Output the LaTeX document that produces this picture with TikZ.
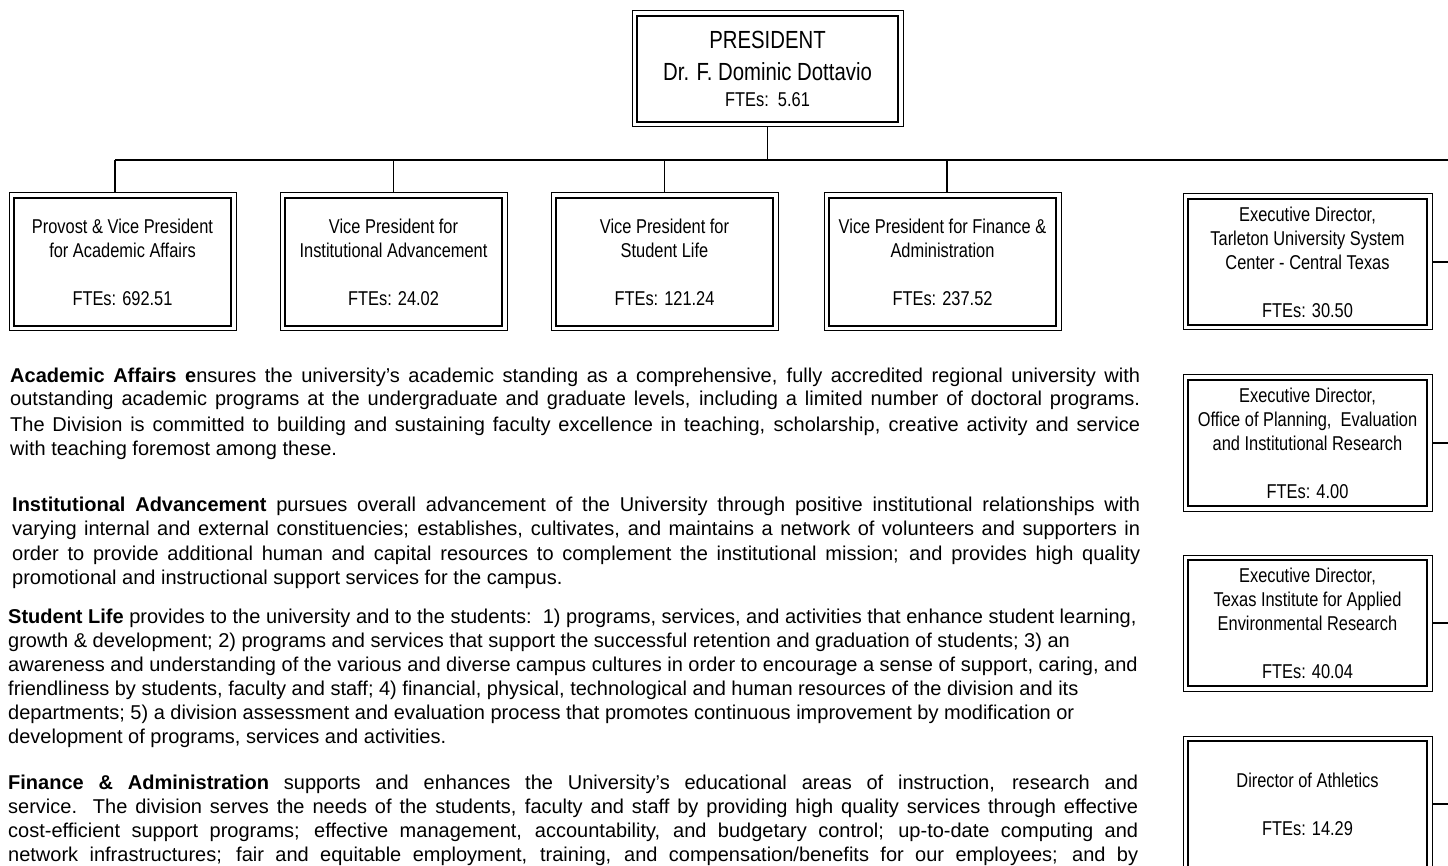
\documentclass[tikz,border=0pt]{standalone}
\usepackage{fontspec}
\setmainfont{Liberation Sans}
\newfontfamily\narrowfont[FakeStretch=0.82]{Liberation Sans}
\begin{document}
\begin{tikzpicture}[x=1pt,y=-1pt]
\tikzset{
  orgbox/.style={draw, line width=1.8pt, outer sep=5pt, align=center, inner sep=0pt,
                 font=\narrowfont\fontsize{20}{24}\selectfont},
  outerframe/.style={line width=1pt},
  conn/.style={line width=1.2pt},
  thickconn/.style={line width=2.2pt},
  para/.style={anchor=base west, inner sep=0pt, font=\fontsize{20}{24}\selectfont},
}
\useasboundingbox (0,0) rectangle (1448,866);

% ---- boxes ----
\node[orgbox, minimum width=261pt, minimum height=106pt,
      font=\narrowfont\fontsize{24.8}{32}\selectfont] (pres) at (767.5,69)
  {PRESIDENT\\Dr. F. Dominic Dottavio\\[-6pt]\fontsize{20}{24}\selectfont FTEs:\ \ 5.61};

\node[orgbox, minimum width=217pt, minimum height=128pt] (aa) at (122.5,262)
  {Provost \& Vice President\\for Academic Affairs\\[24pt]FTEs: 692.51};
\node[orgbox, minimum width=217pt, minimum height=128pt] (ia) at (393.5,262)
  {Vice President for\\Institutional Advancement\\[24pt]FTEs: 24.02};
\node[orgbox, minimum width=217pt, minimum height=128pt] (sl) at (664.5,262)
  {Vice President for\\Student Life\\[24pt]FTEs: 121.24};
\node[orgbox, minimum width=227pt, minimum height=128pt] (fa) at (942.5,262)
  {Vice President for Finance \&\\Administration\\[24pt]FTEs: 237.52};

\node[orgbox, minimum width=239pt, minimum height=126pt] (e1) at (1307.5,262)
  {Executive Director,\\Tarleton University System\\Center - Central Texas\\[24pt]FTEs: 30.50};
\node[orgbox, minimum width=239pt, minimum height=126pt] (e2) at (1307.5,443)
  {Executive Director,\\Office of Planning,\ \ Evaluation\\and Institutional Research\\[24pt]FTEs: 4.00};
\node[orgbox, minimum width=239pt, minimum height=126pt] (e3) at (1307.5,623)
  {Executive Director,\\Texas Institute for Applied\\Environmental Research\\[24pt]FTEs: 40.04};
\node[orgbox, minimum width=239pt, minimum height=126pt] (e4) at (1307.5,804)
  {Director of Athletics\\[24pt]FTEs: 14.29};

\foreach \n in {pres,aa,ia,sl,fa,e1,e2,e3,e4}
  \draw[outerframe] (\n.north west) rectangle (\n.south east);

% ---- connectors ----
\coordinate (bl) at (115,160);
\coordinate (br) at (1448,160);
\coordinate (bt) at (597,160);
\coordinate (j4) at (947,160);
\draw[conn] (bl) -- (br);
\draw[thickconn] (bt) -- (pres.south |- bl);
\draw[conn] (pres.south) -- (pres.south |- bl);
\draw[conn] (bl) -- (bl |- aa.north);
\draw[conn] (ia.north |- bl) -- (ia.north);
\draw[conn] (sl.north |- bl) -- (sl.north);
\draw[conn] (j4) -- (j4 |- fa.north);
\foreach \n in {e1,e2,e3,e4}
  \draw[conn] (\n.east) -- (\n.east -| br);

% ---- paragraphs ----
\node[para] (p1a) at (10,382) {\makebox[1130pt][s]{\textbf{Academic Affairs e}nsures the university’s academic standing as a comprehensive, fully accredited regional university with}};
\node[para] (p1b) at (10,406) {\makebox[1130pt][s]{outstanding academic programs at the undergraduate and graduate levels, including a limited number of doctoral programs.}};
\node[para] (p1c) at (10,431) {\makebox[1130pt][s]{The Division is committed to building and sustaining faculty excellence in teaching, scholarship, creative activity and service}};
\node[para] (p1d) at (10,455) {with teaching foremost among these.};

\node[para] (p2a) at (12,511) {\makebox[1128pt][s]{\textbf{Institutional Advancement} pursues overall advancement of the University through positive institutional relationships with}};
\node[para] (p2b) at (12,535) {\makebox[1128pt][s]{varying internal and external constituencies; establishes, cultivates, and maintains a network of volunteers and supporters in}};
\node[para] (p2c) at (12,560) {\makebox[1128pt][s]{order to provide additional human and capital resources to complement the institutional mission; and provides high quality}};
\node[para] (p2d) at (12,584) {promotional and instructional support services for the campus.};

\node[para] (p3a) at (8,623) {\textbf{Student Life} provides to the university and to the students:\ \ 1) programs, services, and activities that enhance student learning,};
\node[para] (p3b) at (8,647) {growth \& development; 2) programs and services that support the successful retention and graduation of students; 3) an};
\node[para] (p3c) at (8,671) {awareness and understanding of the various and diverse campus cultures in order to encourage a sense of support, caring, and};
\node[para] (p3d) at (8,695) {friendliness by students, faculty and staff; 4) financial, physical, technological and human resources of the division and its};
\node[para] (p3e) at (8,719) {departments; 5) a division assessment and evaluation process that promotes continuous improvement by modification or};
\node[para] (p3f) at (8,743) {development of programs, services and activities.};

\node[para] (p4a) at (8,789) {\makebox[1130pt][s]{\textbf{Finance \& Administration} supports and enhances the University’s educational areas of instruction, research and}};
\node[para] (p4b) at (8,813) {\makebox[1130pt][s]{service.\ \ The division serves the needs of the students, faculty and staff by providing high quality services through effective}};
\node[para] (p4c) at (8,837) {\makebox[1130pt][s]{cost-efficient support programs; effective management, accountability, and budgetary control; up-to-date computing and}};
\node[para] (p4d) at (8,861) {\makebox[1130pt][s]{network infrastructures; fair and equitable employment, training, and compensation/benefits for our employees; and by}};
\end{tikzpicture}
\end{document}
